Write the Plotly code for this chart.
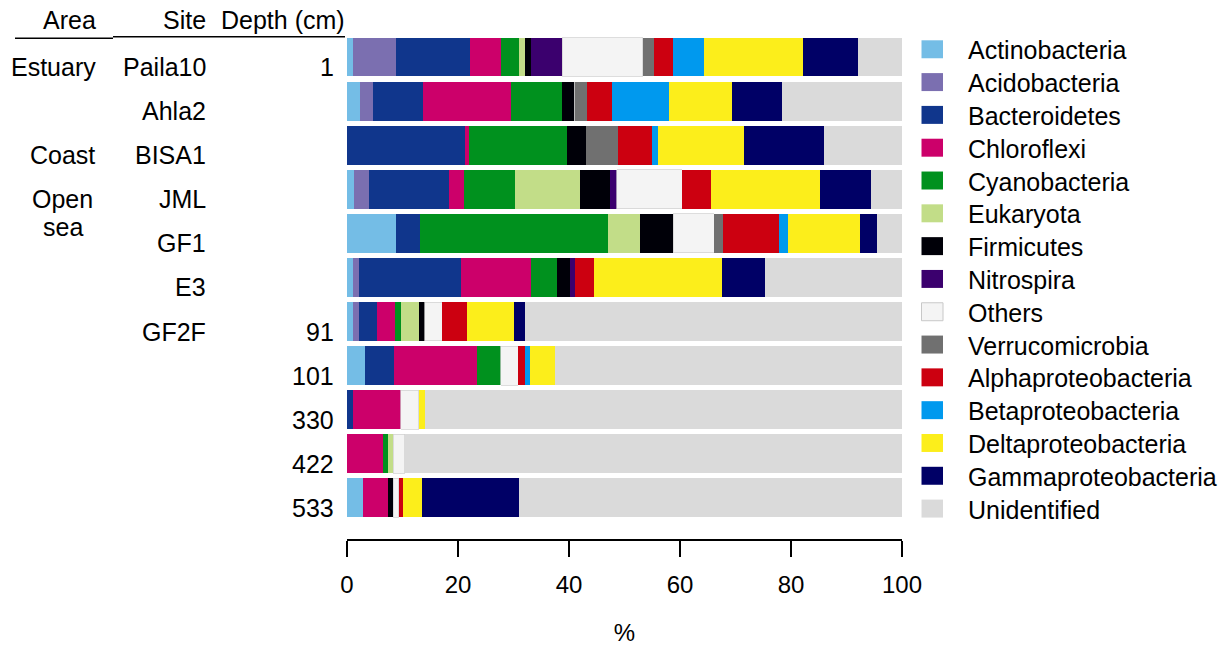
import plotly.graph_objects as go

# ---------------- data ----------------
groups = ["Actinobacteria", "Acidobacteria", "Bacteroidetes", "Chloroflexi",
          "Cyanobacteria", "Eukaryota", "Firmicutes", "Nitrospira", "Others",
          "Verrucomicrobia", "Alphaproteobacteria", "Betaproteobacteria",
          "Deltaproteobacteria", "Gammaproteobacteria", "Unidentified"]

samples = ["Paila10", "Ahla2", "BISA1", "JML", "GF1", "E3",
           "GF2F 91", "GF2F 101", "GF2F 330", "GF2F 422", "GF2F 533"]

site_labels = ["Paila10", "Ahla2", "BISA1", "JML", "GF1", "E3", "GF2F", "", "", "", ""]
depth_labels = ["1", "", "", "", "", "", "91", "101", "330", "422", "533"]

# percent per group, one list per sample (order follows `groups`)
paila10 = [1.0, 7.9, 13.3, 5.5, 3.3, 1.1, 1.1, 5.6, 14.5, 2.1, 3.3, 5.6, 17.8, 10.0, 7.9]
ahla2   = [2.3, 2.3, 9.1, 15.9, 9.1, 0, 2.3, 0, 0, 2.3, 4.5, 10.2, 11.3, 9.1, 21.6]
bisa1   = [0, 0, 21.3, 0.6, 17.8, 0, 3.4, 0, 0, 5.7, 6.2, 1.1, 15.5, 14.4, 14.0]
jml     = [1.3, 2.6, 14.5, 2.6, 9.2, 11.7, 5.4, 1.3, 11.8, 0, 5.1, 0, 19.8, 9.2, 5.5]
gf1     = [8.8, 0, 4.4, 0, 33.8, 5.8, 6.0, 0, 7.4, 1.5, 10.1, 1.6, 13.1, 3.0, 4.5]
e3      = [1.0, 1.2, 18.3, 12.6, 4.7, 0, 2.3, 1.0, 0, 0, 3.4, 0, 23.0, 7.9, 24.6]
gf2f_91  = [1.1, 1.1, 3.2, 3.2, 1.1, 3.2, 1.1, 0, 3.2, 0, 4.4, 0, 8.4, 2.1, 67.9]
gf2f_101 = [3.2, 0, 5.3, 14.9, 4.3, 0, 0, 0, 3.2, 0, 1.1, 1.0, 4.4, 0, 62.6]
gf2f_330 = [0, 0, 1.1, 8.6, 0, 0, 0, 0, 3.2, 0, 0, 0, 1.1, 0, 86.0]
gf2f_422 = [0, 0, 0, 6.4, 0.9, 1.0, 0, 0, 2.1, 0, 0, 0, 0, 0, 89.6]
gf2f_533 = [2.9, 0, 0, 4.4, 0, 0, 1.0, 0, 1.0, 0, 0.7, 0, 3.5, 17.5, 69.0]

table = [paila10, ahla2, bisa1, jml, gf1, e3, gf2f_91, gf2f_101, gf2f_330, gf2f_422, gf2f_533]

colors = ["#74BDE6", "#7B6FB0", "#10368C", "#CC006A", "#00911E", "#C2DD88",
          "#000008", "#3B006E", "#F4F4F4", "#707070", "#CC0010", "#0099EE",
          "#FCEE1B", "#000066", "#DADADA"]

FONT = "Liberation Sans, Arial, Helvetica, sans-serif"

# ---------------- geometry (page px; body margin removed by post_script) ----------------
W, H = 1229, 646
L = 347
R = W - 902
T = 34.7
B = H - 539.5
PW = W - L - R
PH = H - T - B


def px(page_x):
    return (page_x - L) / PW


def py(page_y):
    return 1 - (page_y - T) / PH


fig = go.Figure()
ypos = list(range(len(samples)))
for gi, g in enumerate(groups):
    vals = [row[gi] for row in table]
    is_oth = g == "Others"
    fig.add_trace(go.Bar(
        y=ypos, x=vals, orientation="h", name=g,
        marker=dict(color=colors[gi],
                    line=dict(color="#CFCFCF" if is_oth else colors[gi], width=0.7 if is_oth else 0)),
        hovertext=samples, showlegend=False,
    ))

ann = []
shapes = []
LAB = 25
for i, s in enumerate(site_labels):
    if s:
        ann.append(dict(x=px(208), y=i, xref="paper", yref="y", text=s, showarrow=False,
                        xanchor="right", yanchor="middle", yshift=-10, font=dict(size=LAB)))
for i, d in enumerate(depth_labels):
    if d:
        ann.append(dict(x=px(336), y=i, xref="paper", yref="y", text=d, showarrow=False,
                        xanchor="right", yanchor="middle", yshift=-10, font=dict(size=LAB)))
area = [("Estuary", 0, 0, 53.5), ("Coast", 2, 0, 62), ("Open", 3, 0, 62), ("sea", 3, -28, 63)]
for t, i, sh, xc in area:
    ann.append(dict(x=px(xc), y=i, xref="paper", yref="y", text=t, showarrow=False,
                    xanchor="center", yanchor="middle", yshift=-10 + sh, font=dict(size=LAB)))
# headers
ann.append(dict(x=px(69), y=py(20), xref="paper", yref="paper", text="Area", showarrow=False,
                xanchor="center", yanchor="middle", font=dict(size=LAB)))
ann.append(dict(x=px(208), y=py(20), xref="paper", yref="paper", text="Site", showarrow=False,
                xanchor="right", yanchor="middle", font=dict(size=LAB)))
ann.append(dict(x=px(347), y=py(20), xref="paper", yref="paper", text="Depth (cm)", showarrow=False,
                xanchor="right", yanchor="middle", font=dict(size=LAB)))
shapes.append(dict(type="line", xref="paper", yref="paper", x0=px(15), x1=px(113),
                   y0=py(38), y1=py(38), line=dict(color="black", width=1.5)))
shapes.append(dict(type="line", xref="paper", yref="paper", x0=px(113), x1=px(345),
                   y0=py(36.5), y1=py(36.5), line=dict(color="black", width=1.5)))

# legend (drawn as keys + labels)
for gi, g in enumerate(groups):
    yc = 49 + gi * 32.86
    shapes.append(dict(type="rect", xref="paper", yref="paper",
                       x0=px(921.5), x1=px(943), y0=py(yc - 9), y1=py(yc + 9),
                       fillcolor=colors[gi],
                       line=dict(color="#C8C8C8" if g == "Others" else colors[gi],
                                 width=1 if g == "Others" else 0)))
    ann.append(dict(x=px(966), y=py(yc + 1), xref="paper", yref="paper", text=g, showarrow=False,
                    xanchor="left", yanchor="middle", font=dict(size=LAB)))

fig.update_layout(
    barmode="stack", bargap=0.118,
    width=W, height=H,
    margin=dict(l=L, r=R, t=T, b=B, pad=0, autoexpand=False),
    paper_bgcolor="white", plot_bgcolor="white",
    font=dict(family=FONT, size=LAB, color="black"),
    showlegend=False,
    xaxis=dict(range=[0, 100], tickvals=[0, 20, 40, 60, 80, 100], showgrid=False, zeroline=False,
               showline=True, linecolor="black", linewidth=1.5, ticks="outside", ticklen=16,
               tickwidth=1.5, tickcolor="black", ticklabelstandoff=7, automargin=False,
               tickfont=dict(size=24),
               title=dict(text="%", standoff=37, font=dict(size=24))),
    yaxis=dict(range=[10.934, -0.5], showticklabels=False, showgrid=False, zeroline=False,
               showline=False, ticks="", automargin=False),
    annotations=ann, shapes=shapes,
)

fig.write_html("out.html", config={"displayModeBar": False},
               post_script="document.body.style.margin='0';document.body.style.overflow='hidden';")
